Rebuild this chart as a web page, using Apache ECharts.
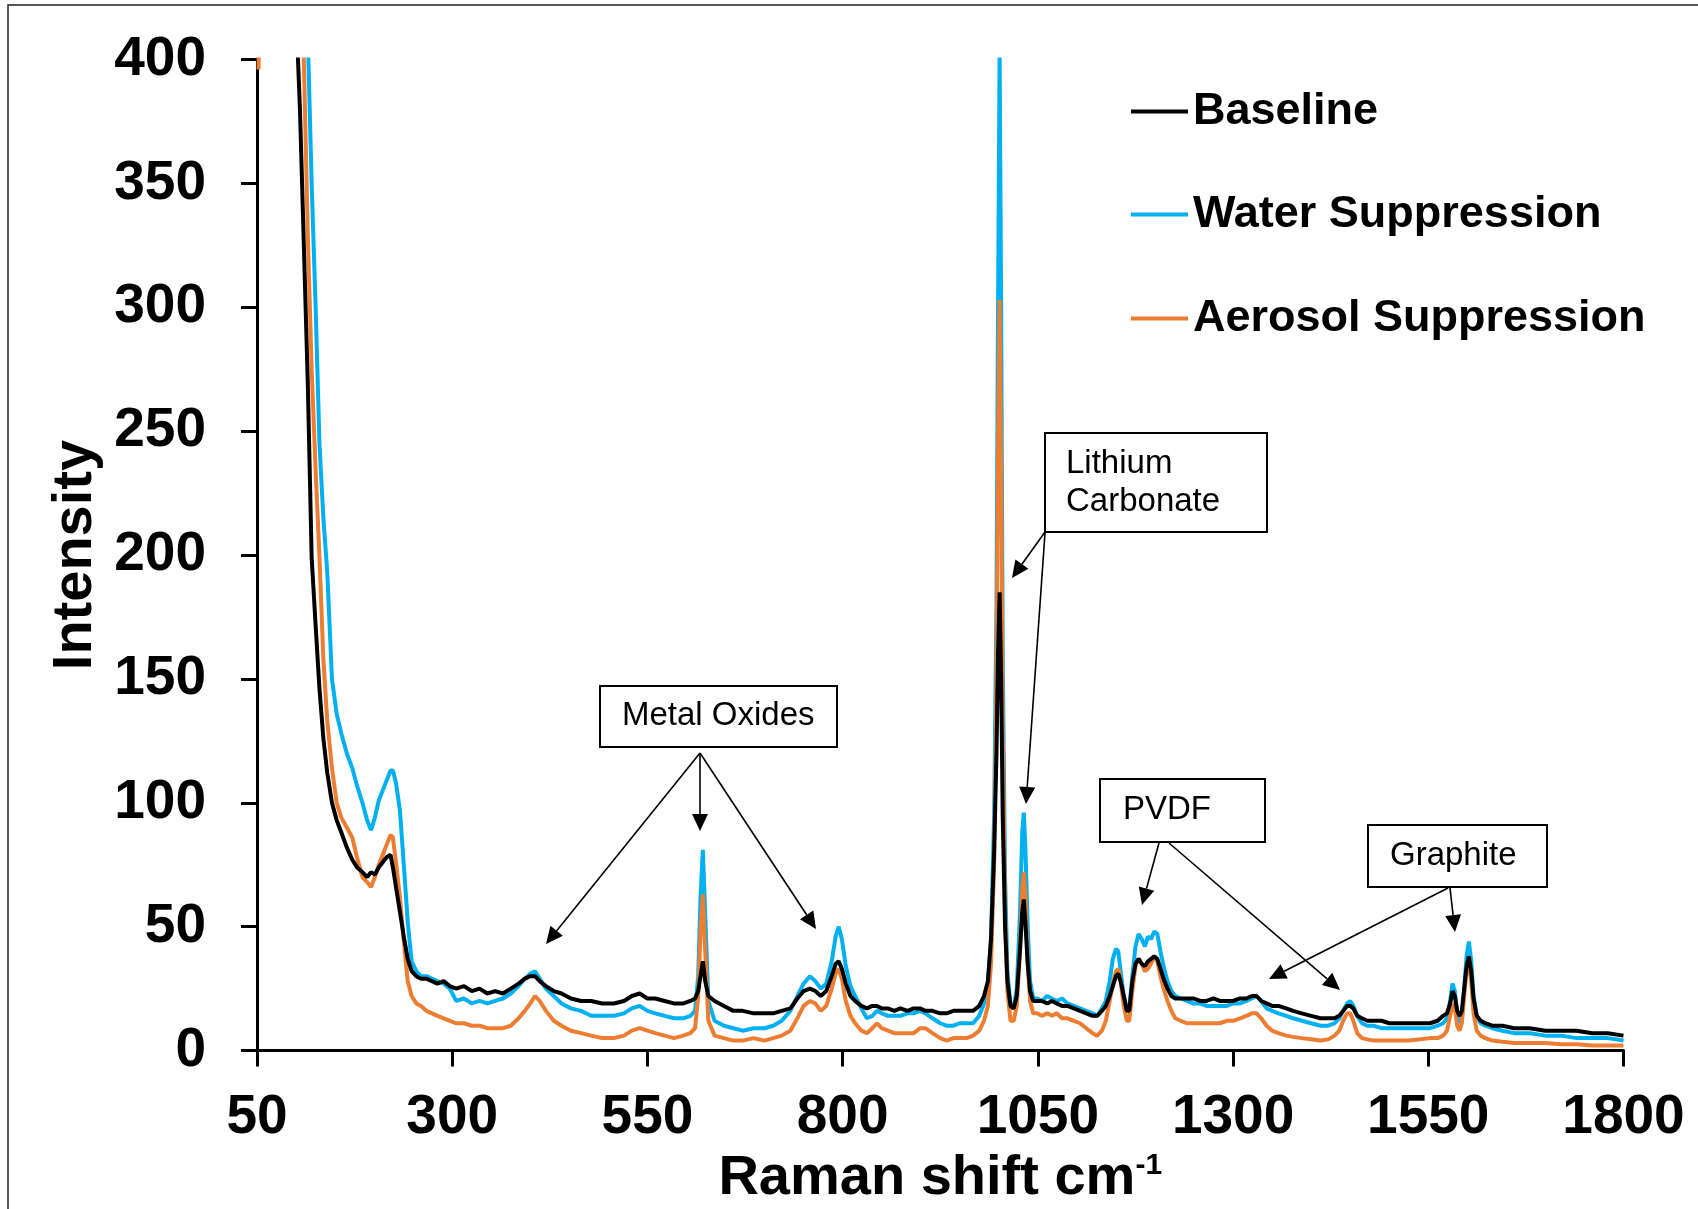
<!DOCTYPE html>
<html><head><meta charset="utf-8">
<script src="https://cdn.jsdelivr.net/npm/echarts@6/dist/echarts.min.js"></script>
<style>html,body{margin:0;padding:0;background:#fff}#c{width:1698px;height:1209px}</style>
</head><body><div id="c"></div>
<script>
// Raman shift (cm-1) sample positions shared by all three spectra
const shifts = [
  52,60,80,95,100,105,110,115,120,125,130,135,140,146,152,158,165,172,178,185,191,196,201,206,211,216,221,224,228,233,238,243,248,254,260,267,274,281,289,297,
  305,315,325,335,345,355,365,375,385,393,400,406,412,420,430,440,452,465,478,492,507,520,530,540,550,560,572,584,596,605,611,615,618,621,624,628,636,648,660,672,686,700,
  711,722,733,742,750,758,765,772,779,786,791,795,799,804,810,816,824,831,838,844,850,858,866,874,883,891,899,906,915,925,933,942,950,959,967,975,981,986,990,994,997,999,1001,1003,1005,1008,1011,1015,1019,1023,1027,1030,1032,1034,1037,1040,1044,1049,1055,1062,1068,1074,1081,1088,1096,1104,1112,1120,1126,1132,1137,1142,1146,1150,1153,1156,1160,1164,1167,
  1171,1175,1179,1183,1187,1191,1195,1199,1203,1207,1211,1216,1221,1226,1233,1241,1249,1258,1266,1275,1283,1292,1300,1309,1317,1324,1330,1336,1343,1350,1358,1368,1377,1388,1400,1412,1422,1430,1436,1441,1446,1450,1454,1459,1465,1472,1480,1490,1500,1512,1525,1540,1552,1562,1569,1574,1578,1581,1584,1587,1590,1593,1596,1599,1602,1605,1608,1612,1617,1623,1632,1645,1660,1680,1700,1720,1740,1760,1780,1800
];
const baseline = [
  1000,1000,900,520,420,380,325,270,199,172,146,126,112,100,93,88,82,77,74,72,70,72,71,74,76,78,79,74,66,56,46,37,32,30,29,29,28,27,28,26,
  25,26,24,25,23,24,23,25,27,29,30,30,28,26,24,23,21,20,20,19,19,20,22,23,21,21,20,19,19,20,21,24,30,36,28,22,20,18,16,16,15,15,
  15,16,17,21,24,25,24,22,24,30,35,36,33,27,22,20,18,17,18,18,17,17,16,17,16,17,17,16,16,15,15,16,16,16,16,18,22,28,45,80,120,160,185,150,95,50,28,18,17,22,40,56,61,52,35,24,20,20,20,19,20,19,18,18,17,16,15,14,14,16,18,22,26,30,31,28,22,16,16,
  28,35,37,35,34,36,37,38,37,33,29,25,22,21,21,21,21,20,20,21,20,20,20,21,21,22,22,20,19,18,18,17,16,15,14,13,13,13,14,16,18,18,17,14,13,12,12,12,11,11,11,11,11,12,14,15,19,24,22,16,14,16,25,34,38,32,21,14,12,11,10,10,9,9,8,8,8,7,7,6
];
const water = [
  1000,1000,1000,800,650,550,470,410,350,301,245,215,193,150,136,128,120,114,107,100,93,89,94,101,105,109,113,113,108,97,75,52,36,32,30,30,29,28,27,25,
  20,21,19,20,19,20,21,23,26,29,31,32,29,25,22,19,17,16,14,14,14,15,17,18,16,15,14,13,13,14,16,30,62,81,55,20,12,10,9,8,9,9,
  10,12,16,22,27,30,28,25,27,36,46,50,45,34,26,22,17,13,14,16,15,14,14,14,15,15,16,15,13,11,10,10,11,11,11,14,19,27,45,95,180,300,402,300,160,70,32,18,17,25,55,88,96,82,50,28,21,21,20,22,21,20,21,19,18,17,16,15,14,17,20,28,37,41,40,32,22,16,17,
  30,42,47,45,42,46,45,48,47,40,34,28,24,22,21,20,19,19,18,18,18,18,19,19,20,21,22,20,17,16,15,14,13,12,11,10,10,11,13,16,19,20,18,14,11,10,10,9,9,9,9,9,9,10,11,13,20,27,24,15,11,14,25,38,44,36,22,14,11,10,9,8,7,7,6,6,5,5,5,4
];
const aerosol = [
  396,1000,1000,700,550,460,400,330,275,235,199,158,133,114,100,94,90,86,78,70,68,66,70,75,79,83,87,86,76,62,44,28,22,19,18,16,15,14,13,12,
  11,11,10,10,9,9,9,10,13,16,19,22,20,16,12,10,8,7,6,5,5,6,8,9,8,7,6,5,6,7,9,22,48,63,40,12,6,5,4,4,5,4,
  5,6,8,13,18,20,19,16,18,25,31,33,29,20,14,11,8,7,9,11,9,8,7,7,7,7,9,9,7,5,4,5,5,5,6,8,12,18,35,75,150,240,303,235,130,55,24,12,12,18,40,65,72,62,36,20,15,15,14,15,14,15,13,13,12,11,9,7,6,8,12,20,27,32,33,28,18,12,12,
  24,34,37,35,32,33,35,38,36,30,25,20,16,13,12,11,11,11,11,11,11,12,12,13,14,15,15,13,10,8,7,6,5.5,5,4.5,4,4.5,6,8,12,15,15,12,7,5,4.5,4,4,4,4,4,4.5,5,5,6,8,14,19,17,10,8,11,22,32,36,28,15,8,6,5,4,3.5,3,3,3,2.5,2.5,2,2,2
];
const seriesNames = ['Baseline', 'Water Suppression', 'Aerosol Suppression'];
const xTickValues = [50, 300, 550, 800, 1050, 1300, 1550, 1800];
const annotationLabels = ['Metal Oxides', 'Lithium', 'Carbonate', 'PVDF', 'Graphite'];

const F = '"Liberation Sans", Arial, Helvetica, sans-serif';
const chart = echarts.init(document.getElementById('c'), null, {renderer: 'canvas'});
function pairs(ys) { return shifts.map((x, i) => [x, ys[i]]); }

function arrow(x1, y1, x2, y2) {
  const L = 17, W = 8;
  const dx = x2 - x1, dy = y2 - y1, d = Math.hypot(dx, dy);
  const ux = dx / d, uy = dy / d;
  const bx = x2 - ux * L, by = y2 - uy * L;
  return [
    {type: 'line', z: 50, shape: {x1: x1, y1: y1, x2: bx, y2: by}, style: {stroke: '#000', lineWidth: 1.6}},
    {type: 'polygon', z: 50, shape: {points: [[x2, y2], [bx - uy * W, by + ux * W], [bx + uy * W, by - ux * W]]}, style: {fill: '#000'}}
  ];
}
function box(x, y, w, h) {
  return {type: 'rect', z: 49, shape: {x: x, y: y, width: w, height: h}, style: {fill: '#fff', stroke: '#000', lineWidth: 2}};
}
function label(t, x, y) {
  return {type: 'text', z: 51, style: {text: t, x: x, y: y, font: '33px ' + F, fill: '#000',
    textAlign: 'left', align: 'left', textVerticalAlign: 'middle', verticalAlign: 'middle'}};
}

const elements = [
  {type: 'rect', z: 1, shape: {x: 8, y: 5, width: 1720, height: 1230}, style: {fill: 'none', stroke: '#222', lineWidth: 1.5}},
  box(600, 686, 237, 61), label(annotationLabels[0], 622, 716),
  box(1045, 433, 222, 99), label(annotationLabels[1], 1066, 464), label(annotationLabels[2], 1066, 502),
  box(1100, 779, 165, 63), label(annotationLabels[3], 1123, 810),
  box(1368, 825, 179, 62), label(annotationLabels[4], 1390, 856),
  ...arrow(700, 753, 546, 944), ...arrow(700, 753, 700, 831), ...arrow(700, 753, 816, 929),
  ...arrow(1045, 532, 1012, 578), ...arrow(1045, 533, 1026, 804),
  ...arrow(1159, 843, 1142, 905), ...arrow(1169, 843, 1340, 990),
  ...arrow(1448, 888, 1269, 979), ...arrow(1450, 888, 1455, 932)
];

const legendBase = {
  orient: 'vertical', left: 1131, padding: 0, itemGap: 0, itemWidth: 57, itemHeight: 4, icon: 'rect',
  textStyle: {fontFamily: F, fontSize: 45, fontWeight: 'bold', color: '#000', padding: [0, 0, 0, 0]}
};

const option = {
  backgroundColor: '#fff',
  animation: false,
  grid: {left: 257, right: 74.5, top: 59.6, bottom: 158.5, containLabel: false, outerBoundsMode: 'none'},
  legend: [
    Object.assign({}, legendBase, {data: [seriesNames[0]], top: 89}),
    Object.assign({}, legendBase, {data: [seriesNames[1]], top: 192}),
    Object.assign({}, legendBase, {data: [seriesNames[2]], top: 296})
  ],
  xAxis: {
    type: 'value', min: 50, max: 1800,
    name: '{a|Raman shift cm}{b|-1}', nameLocation: 'middle', nameGap: 100,
    nameTextStyle: {rich: {
      a: {fontFamily: F, fontSize: 56, fontWeight: 'bold', color: '#000', lineHeight: 56},
      b: {fontFamily: F, fontSize: 30, fontWeight: 'bold', color: '#000', verticalAlign: 'top', lineHeight: 56}
    }},
    axisLine: {show: true, lineStyle: {color: '#000', width: 3}},
    axisTick: {show: true, inside: false, length: 16, lineStyle: {color: '#000', width: 3}, customValues: xTickValues},
    axisLabel: {customValues: xTickValues, formatter: function (v) { return String(v); },
      margin: 40, fontFamily: F, fontSize: 55, fontWeight: 'bold', color: '#000'},
    splitLine: {show: false}
  },
  yAxis: {
    type: 'value', min: 0, max: 400, interval: 50,
    name: 'Intensity', nameLocation: 'middle', nameGap: 148, nameRotate: 90,
    nameTextStyle: {fontFamily: F, fontSize: 56, fontWeight: 'bold', color: '#000'},
    axisLine: {show: true, lineStyle: {color: '#000', width: 3}},
    axisTick: {show: true, inside: false, length: 16, lineStyle: {color: '#000', width: 3}},
    axisLabel: {margin: 51, fontFamily: F, fontSize: 55, fontWeight: 'bold', color: '#000',
      formatter: function (v) { return String(v); }},
    splitLine: {show: false}
  },
  series: [
    {name: seriesNames[1], type: 'line', data: pairs(water), showSymbol: false, symbol: 'none', clip: true,
     color: '#00B0F0', lineStyle: {color: '#00B0F0', width: 4}, z: 2},
    {name: seriesNames[2], type: 'line', data: pairs(aerosol), showSymbol: false, symbol: 'none', clip: true,
     color: '#ED7D31', lineStyle: {color: '#ED7D31', width: 4}, z: 3},
    {name: seriesNames[0], type: 'line', data: pairs(baseline), showSymbol: false, symbol: 'none', clip: true,
     color: '#000000', lineStyle: {color: '#000000', width: 4}, z: 4}
  ],
  graphic: {elements: elements}
};
chart.setOption(option);
</script>
</body></html>
